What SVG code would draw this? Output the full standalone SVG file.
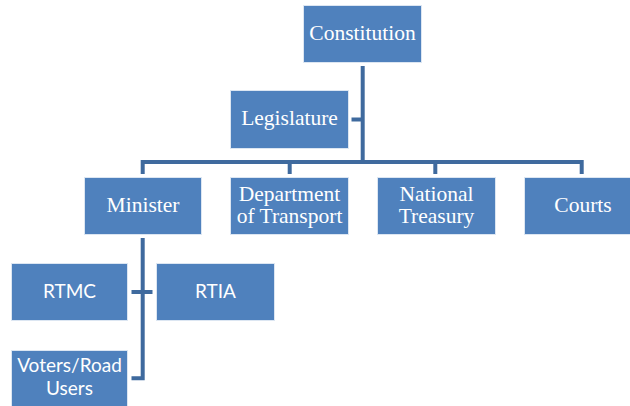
<svg xmlns="http://www.w3.org/2000/svg" width="630" height="406" viewBox="0 0 630 406">
  <style>
    .box { fill: #4F81BD; stroke: #DCE6F2; stroke-width: 1; }
    .serif { font-family: "Liberation Serif", "DejaVu Serif", serif; font-size: 21.5px; fill: #FFFFFF; text-anchor: middle; }
    .sans { font-family: Lato, "Open Sans", "Liberation Sans", sans-serif; font-size: 19px; fill: #FFFFFF; text-anchor: middle; }
    .link { fill: none; stroke: #3F6A9E; stroke-width: 4; stroke-linejoin: miter; stroke-linecap: butt; }
  </style>
  <rect width="630" height="406" fill="#FFFFFF"/>

  <g id="connectors">
    <!-- Constitution trunk down to the main bus -->
    <path class="link" d="M362.7 66 V162"/>
    <!-- Legislature side stub -->
    <path class="link" d="M351.5 119.5 H362.7"/>
    <!-- main bus with drops to the four units -->
    <path class="link" d="M142.7 174 V162 H581.7 V174"/>
    <path class="link" d="M289.7 162 V174"/>
    <path class="link" d="M435.3 162 V174"/>
    <!-- Minister trunk with branches -->
    <path class="link" d="M142.7 238 V378.3 H131.5"/>
    <path class="link" d="M131.5 292 H152.5"/>
  </g>

  <g id="constitution">
    <rect class="box" x="303.5" y="5.5" width="118" height="57"/>
    <text class="serif" x="362.5" y="40">Constitution</text>
  </g>

  <g id="legislature">
    <rect class="box" x="230.5" y="90.5" width="118" height="58"/>
    <text class="serif" x="289.5" y="124.5">Legislature</text>
  </g>

  <g id="minister">
    <rect class="box" x="84.5" y="177.5" width="117" height="57"/>
    <text class="serif" x="143" y="211.5">Minister</text>
  </g>

  <g id="department-of-transport">
    <rect class="box" x="230.5" y="177.5" width="118" height="57"/>
    <text class="serif" x="289.5" y="201">Department</text>
    <text class="serif" x="289.5" y="223">of Transport</text>
  </g>

  <g id="national-treasury">
    <rect class="box" x="377.5" y="177.5" width="118" height="57"/>
    <text class="serif" x="436.5" y="201">National</text>
    <text class="serif" x="436.5" y="223">Treasury</text>
  </g>

  <g id="courts">
    <rect class="box" x="524.5" y="177.5" width="118" height="57"/>
    <text class="serif" x="583" y="211.5">Courts</text>
  </g>

  <g id="rtmc">
    <rect class="box" x="11.5" y="263.5" width="116" height="57"/>
    <text class="sans" x="69.5" y="297.5">RTMC</text>
  </g>

  <g id="rtia">
    <rect class="box" x="156.5" y="263.5" width="118" height="57"/>
    <text class="sans" x="215.5" y="297.5">RTIA</text>
  </g>

  <g id="voters-road-users">
    <rect class="box" x="11.5" y="350.5" width="116" height="58"/>
    <text class="sans" x="69.5" y="372">Voters/Road</text>
    <text class="sans" x="69.5" y="395">Users</text>
  </g>
</svg>
